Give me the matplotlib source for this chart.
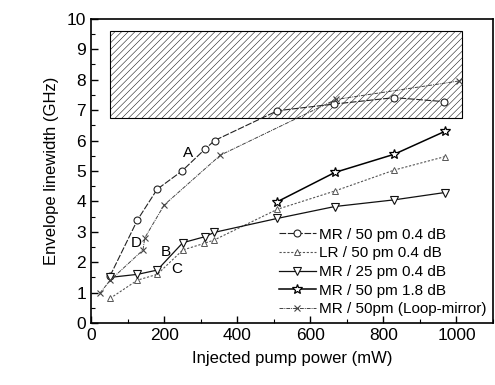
import matplotlib.pyplot as plt
from matplotlib.patches import Rectangle
from matplotlib.ticker import MultipleLocator

plt.rcParams['font.family'] = ['Liberation Sans', 'DejaVu Sans']
plt.rcParams['hatch.linewidth'] = 0.35
plt.rcParams['hatch.color'] = '#444444'

# MR / 50 pm 0.4 dB
mr50_x = [52, 127, 181, 249, 312, 338, 510, 666, 830, 965]
mr50_y = [1.55, 3.39, 4.4, 5.0, 5.72, 6.0, 6.98, 7.2, 7.41, 7.28]
# LR / 50 pm 0.4 dB
lr50_x = [52, 127, 181, 251, 310, 337, 510, 667, 830, 968]
lr50_y = [0.81, 1.41, 1.6, 2.4, 2.62, 2.73, 3.74, 4.34, 5.03, 5.47]
# MR / 25 pm 0.4 dB
mr25_x = [52, 127, 181, 251, 312, 337, 510, 667, 830, 968]
mr25_y = [1.5, 1.6, 1.74, 2.64, 2.84, 2.98, 3.44, 3.83, 4.05, 4.29]
# MR / 50 pm 1.8 dB
mr18_x = [510, 667, 830, 968]
mr18_y = [3.99, 4.95, 5.55, 6.3]
# MR / 50pm (Loop-mirror)
loop_x = [24, 52, 142, 147, 200, 354, 670, 1008]
loop_y = [0.98, 1.4, 2.4, 2.8, 3.88, 5.52, 7.35, 7.96]

labels = ['A', 'B', 'C', 'D']
label_x = [264, 204, 235, 124]
label_y = [5.6, 2.35, 1.76, 2.62]

fig = plt.figure(figsize=(4.95, 3.85), dpi=100)
ax = fig.add_axes([0.184, 0.161, 0.812, 0.79])

ax.add_patch(Rectangle((52, 6.75), 963, 2.85, facecolor='white',
                       edgecolor='black', hatch='/////', linewidth=0.8, zorder=1))

ax.plot(mr50_x, mr50_y, color='#222222', lw=0.8, ls=(0, (6, 1.5)), marker='o',
        ms=5, mfc='white', mec='#222222', mew=0.8, label='MR / 50 pm 0.4 dB', zorder=3)
ax.plot(lr50_x, lr50_y, color='#555555', lw=0.8, ls=(0, (2, 1.5)), marker='^',
        ms=5, mfc='white', mec='#555555', mew=0.7, label='LR / 50 pm 0.4 dB', zorder=3)
ax.plot(mr25_x, mr25_y, color='#111111', lw=0.9, ls='-', marker='v',
        ms=6, mfc='white', mec='#111111', mew=0.8, label='MR / 25 pm 0.4 dB', zorder=3)
ax.plot(mr18_x, mr18_y, color='black', lw=1.1, ls='-', marker='*',
        ms=7, mfc='white', mec='black', mew=0.9, label='MR / 50 pm 1.8 dB', zorder=3)
ax.plot(loop_x, loop_y, color='#444444', lw=0.7, ls=(0, (4, 1, 1, 1)), marker='x',
        ms=5, mec='#444444', mew=0.8, label='MR / 50pm (Loop-mirror)', zorder=3)

for t, x, y in zip(labels, label_x, label_y):
    ax.text(x, y, t, fontsize=11, ha='center', va='center', zorder=4)

ax.set_xlim(0, 1100)
ax.set_ylim(0, 10)
ax.xaxis.set_major_locator(MultipleLocator(200))
ax.xaxis.set_minor_locator(MultipleLocator(100))
ax.yaxis.set_major_locator(MultipleLocator(1))
ax.yaxis.set_minor_locator(MultipleLocator(0.5))
ax.tick_params(which='both', direction='in', labelsize=12.5)
ax.tick_params(which='major', length=5, width=1)
ax.tick_params(which='minor', length=3, width=0.8)
for s in ax.spines.values():
    s.set_linewidth(1.2)

ax.set_xlabel('Injected pump power (mW)', fontsize=12, labelpad=6)
ax.set_ylabel('Envelope linewidth (GHz)', fontsize=12, labelpad=6)

ax.legend(loc='lower right', frameon=False, fontsize=11, handlelength=2.4,
          handletextpad=0.2, labelspacing=0.3, borderaxespad=0.05)

fig.savefig('out.png', dpi=100)
